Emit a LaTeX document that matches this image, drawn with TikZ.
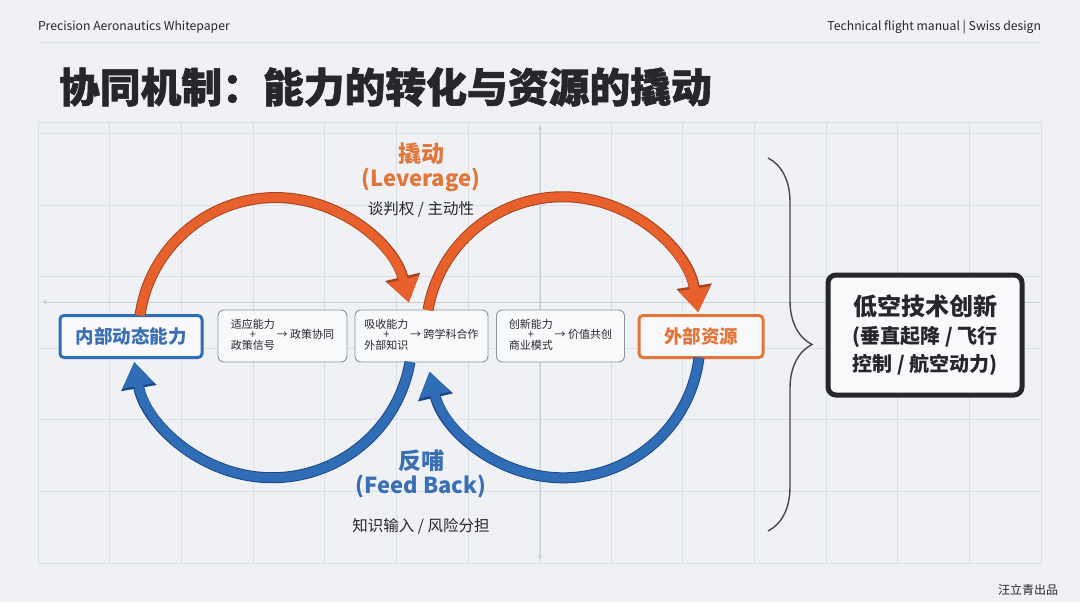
\documentclass[tikz,border=0pt]{standalone}
\usepackage{fontspec}
\setmainfont{Noto Sans CJK SC}
\newfontfamily\heavyfont{Noto Sans CJK SC}[BoldFeatures={FakeBold=1.5}]
\usetikzlibrary{arrows.meta, decorations.pathreplacing}
\newcommand{\pxsize}[1]{\fontsize{#1}{#1}\selectfont}
\definecolor{bgcol}{HTML}{EFF1F4}
\definecolor{gridcol}{HTML}{DCE0E6}
\definecolor{axiscol}{HTML}{C9CED5}
\definecolor{levorange}{HTML}{E8602B}
\definecolor{levdark}{HTML}{A5441E}
\definecolor{levtext}{HTML}{E2763A}
\definecolor{fbblue}{HTML}{2F6DB7}
\definecolor{fbdark}{HTML}{1D4A86}
\definecolor{fbtext}{HTML}{3870B3}
\definecolor{inkcol}{HTML}{25272B}
\definecolor{boxline}{HTML}{8E939A}

\begin{document}
\begin{tikzpicture}[x=1pt, y=-1pt,
  every node/.style={inner sep=0pt, outer sep=0pt},
  mainbox/.style={draw, rounded corners=4, line width=3, fill=white!60!bgcol,
    minimum width=142, minimum height=42, font=\bfseries\pxsize{18.5}},
  smallbox/.style={draw=boxline, rounded corners=6, line width=0.9, fill=white!55!bgcol,
    minimum height=52, text=inkcol, font=\pxsize{11}},
  levout/.style={levdark, line width=11, -{Triangle[length=26.5pt,width=34pt]}},
  levarc/.style={levorange, line width=9, -{Triangle[length=24pt,width=30pt]}},
  fbout/.style={fbdark, line width=11, -{Triangle[length=26.5pt,width=34pt]}},
  fbarc/.style={fbblue, line width=9, -{Triangle[length=24pt,width=30pt]}},
  axisline/.style={axiscol, line width=0.7}]
  \useasboundingbox (0,0) rectangle (1080,602);
  \fill[bgcol] (0,0) rectangle (1080,602);

  % Header and title
  \node[anchor=west, text=inkcol, font=\pxsize{12.2}] (hleft) at (38,27) {Precision Aeronautics Whitepaper};
  \node[anchor=east, text=inkcol, font=\pxsize{12.2}] (hright) at (1041,27) {Technical flight manual | Swiss design};
  \draw[gridcol, line width=0.8] (38,42) -- (1041,42);
  \node[anchor=west, text=inkcol, font=\heavyfont\bfseries\pxsize{40.8}] (title) at (59,87) {协同机制：能力的转化与资源的撬动};

  % Grid panel
  \foreach \i in {0,...,14}
    \draw[gridcol, line width=0.6] ({38+71.64*\i},122) -- ({38+71.64*\i},563);
  \foreach \j in {0,...,6}
    \draw[gridcol, line width=0.6] (38,{563-71.64*\j}) -- (1041,{563-71.64*\j});
  \draw[gridcol, line width=0.8] (38,122) rectangle (1041,563);
  \draw[axisline, -{Stealth[length=5pt,width=4pt]}] (1040,302) -- (42,302);
  \draw[axisline, {Stealth[length=5pt,width=4pt]}-{Stealth[length=5pt,width=4pt]}] (540,560) -- (540,125);

  % Main nodes
  \node[mainbox, draw=fbblue, text=fbtext] (inner) at (131,336.5) {内部动态能力};
  \node[mainbox, draw=levtext, text=levtext, minimum width=124] (outer) at (701,336.5) {外部资源};
  \node[smallbox, minimum width=129] (adapt) at (282.5,336)
    {\begin{tabular}{@{}c@{}}适应能力\\[-1.5pt]+\\[-1.5pt]政策信号\end{tabular}\,→ 政策协同};
  \node[smallbox, minimum width=133] (absorb) at (421.5,336)
    {\begin{tabular}{@{}c@{}}吸收能力\\[-1.5pt]+\\[-1.5pt]外部知识\end{tabular}\,→ 跨学科合作};
  \node[smallbox, minimum width=128] (innov) at (560.5,336)
    {\begin{tabular}{@{}c@{}}创新能力\\[-1.5pt]+\\[-1.5pt]商业模式\end{tabular}\,→ 价值共创};

  % Leverage arcs (top)
  \draw[levout] ([xshift=9pt]inner.north) arc[start angle=188, end angle=346.5, radius=137];
  \draw[levarc] ([xshift=9pt]inner.north) arc[start angle=188, end angle=346.5, radius=137];
  \draw[levout] ([xshift=6.5pt]absorb.north) arc[start angle=190, end angle=351, radius=137];
  \draw[levarc] ([xshift=6.5pt]absorb.north) arc[start angle=190, end angle=351, radius=137];
  % Feed back arcs (bottom)
  \draw[fbout] ([xshift=-11.5pt]absorb.south) arc[start angle=10, end angle=170, radius=140];
  \draw[fbarc] ([xshift=-11.5pt]absorb.south) arc[start angle=10, end angle=170, radius=140];
  \draw[fbout] ([xshift=-2pt]outer.south) arc[start angle=7, end angle=167, radius=137];
  \draw[fbarc] ([xshift=-2pt]outer.south) arc[start angle=7, end angle=167, radius=137];

  % Labels
  \node[text=levtext, font=\bfseries\pxsize{23}] (levname) at (421,154) {撬动};
  \node[text=levtext, font=\bfseries\pxsize{22}] (levsub) at (421,180) {(Leverage)};
  \node[text=inkcol, font=\pxsize{15.5}] (levnote) at (421,209) {谈判权 / 主动性};
  \node[text=fbtext, font=\bfseries\pxsize{23}] (fbname) at (421,461) {反哺};
  \node[text=fbtext, font=\bfseries\pxsize{22}] (fbsub) at (421,487) {(Feed Back)};
  \node[text=inkcol, font=\pxsize{15.5}] (fbnote) at (421,526) {知识输入 / 风险分担};

  % Brace and goal
  \draw[inkcol!85, line width=1.4, decorate, decoration={brace, amplitude=44}] (768,158) -- (768,531);
  \node[draw=inkcol, line width=5, rounded corners=8, fill=white!55!bgcol, text=inkcol,
    minimum width=194, minimum height=120, align=center, font=\bfseries\pxsize{20}] (goal) at (925,335)
    {{\pxsize{24}低空技术创新}\\[8pt](垂直起降 / 飞行\\[5pt]控制 / 航空动力)};

  \node[anchor=east, text=inkcol, font=\pxsize{12}] (mark) at (1058,590) {汪立青出品};
\end{tikzpicture}
\end{document}
